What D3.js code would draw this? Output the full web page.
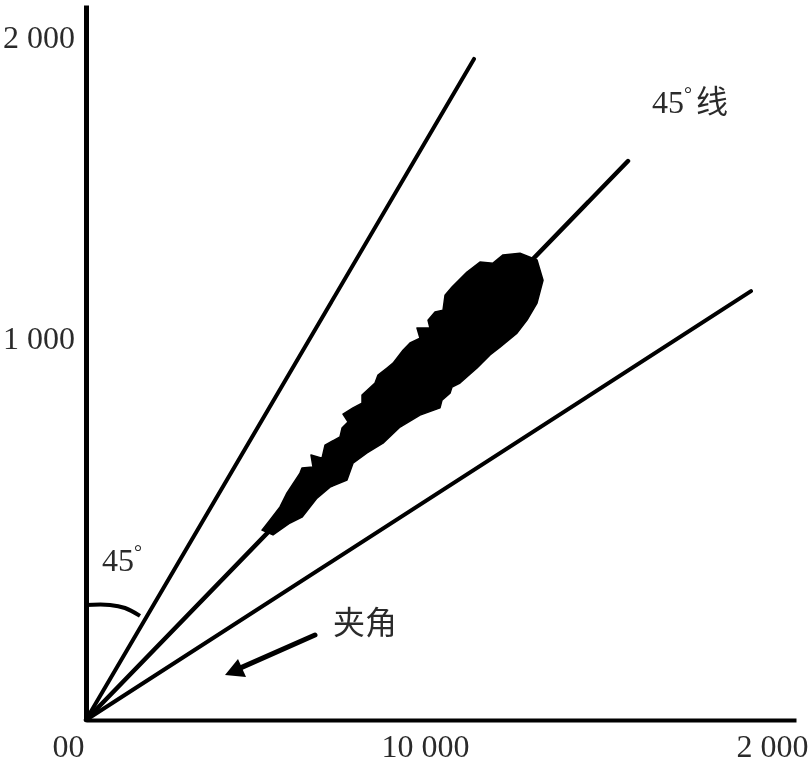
<!DOCTYPE html>
<html>
<head>
<meta charset="utf-8">
<script src="https://cdn.jsdelivr.net/npm/d3@7"></script>
<style>
  body { margin: 0; background: #fff; overflow: hidden; }
  text { font-family: "Liberation Serif", serif; font-size: 32px; fill: #2b2b2b; }
  .cjk { font-family: "Noto Sans CJK SC", sans-serif; font-size: 32px; }
</style>
</head>
<body>
<svg id="chart" width="810" height="775"></svg>
<script>
// tick labels, sits where the scan printed them (not evenly spaced)
var xTickValues = [-525, 9884, 20000];
var xTickLabels = ["00", "10 000", "2 000"];
var yTickValues = [1118, 2000];
var yTickLabels = ["1 000", "2 000"];

// rays from the origin, [x, y] of the far end
var rayNames = ["upper", "middle", "lower"];
var rayEndX = [11312, 15802, 19388];
var rayEndY = [1936, 1637, 1256];
var rayWidth = [4, 4.5, 4];

// scatter cloud outline
var cloudX = [5131, 5365, 5656, 5860, 6239, 6297, 6618, 6560, 6881, 6968, 7405, 7464, 7639, 7493, 7784, 8047, 8047, 8426, 8513, 8776, 8951, 9242, 9446, 9738, 9650, 10029, 9971, 10175, 10408, 10467, 10671, 11108, 11487, 11866, 12158, 12653, 13149, 13324, 13149, 12857, 12566, 12070, 11779, 11400, 10904, 10671, 10612, 10379, 10321, 9738, 9155, 8659, 8193, 7784, 7609, 7114, 6735, 6297, 5948, 5452];
var cloudY = [556, 586, 624, 665, 723, 738, 741, 776, 767, 805, 829, 855, 873, 896, 914, 928, 952, 987, 1010, 1031, 1045, 1083, 1104, 1118, 1148, 1148, 1171, 1195, 1200, 1244, 1268, 1312, 1341, 1338, 1362, 1367, 1347, 1288, 1221, 1171, 1133, 1092, 1069, 1031, 987, 975, 957, 937, 914, 893, 858, 811, 782, 752, 703, 682, 650, 594, 577, 542];

// 45 degree arc next to the y axis
var arcX = [0, 700, 1137, 1574];
var arcY = [337, 337, 328, 305];

// arrow pointing at the angle
var arrowX = [6676, 4490];
var arrowY = [249, 152];
var arrowHeadX = [4053, 4432, 4665];
var arrowHeadY = [132, 179, 126];

var svg = d3.select("#chart");
var defs = svg.append("defs");
defs.append("filter").attr("id", "scan")
  .append("feGaussianBlur").attr("stdDeviation", 0.5);

var g = svg.append("g").attr("filter", "url(#scan)");

var x = d3.scaleLinear().domain([0, 20700]).range([86, 796]);
var y = d3.scaleLinear().domain([0, 2094]).range([720, 5]);

var xAxis = d3.axisBottom(x)
  .tickValues(xTickValues)
  .tickSize(0)
  .tickPadding(14)
  .tickFormat(function(d, i) { return xTickLabels[i]; });

var yAxis = d3.axisLeft(y)
  .tickValues(yTickValues)
  .tickSize(0)
  .tickPadding(11)
  .tickFormat(function(d, i) { return yTickLabels[i]; });

var gx = g.append("g").attr("transform", "translate(0,720)").call(xAxis);
var gy = g.append("g").attr("transform", "translate(86,0)").call(yAxis);

gx.select(".domain").attr("stroke", "#000").attr("stroke-width", 4);
gy.select(".domain").attr("stroke", "#000").attr("stroke-width", 5);
g.selectAll(".tick text").style("font-size", "32px").style("font-family", '"Liberation Serif", serif');

// rays
g.selectAll("line.ray")
  .data(rayNames)
  .enter().append("line")
  .attr("class", "ray")
  .attr("x1", x(0))
  .attr("y1", y(0))
  .attr("x2", function(d, i) { return x(rayEndX[i]); })
  .attr("y2", function(d, i) { return y(rayEndY[i]); })
  .attr("stroke", "#000")
  .attr("stroke-width", function(d, i) { return rayWidth[i]; })
  .attr("stroke-linecap", "round");

// cloud
var outline = d3.line()
  .x(function(d, i) { return x(d); })
  .y(function(d, i) { return y(cloudY[i]); })
  .curve(d3.curveLinearClosed);

g.append("path")
  .attr("d", outline(cloudX))
  .attr("fill", "#000")
  .attr("stroke", "#000")
  .attr("stroke-width", 1.5)
  .attr("stroke-linejoin", "round");

// arc
var arcLine = d3.line()
  .x(function(d) { return x(d); })
  .y(function(d, i) { return y(arcY[i]); })
  .curve(d3.curveCatmullRom);

g.append("path")
  .attr("d", arcLine(arcX))
  .attr("fill", "none")
  .attr("stroke", "#000")
  .attr("stroke-width", 4);

// arrow
g.append("line")
  .attr("x1", x(arrowX[0])).attr("y1", y(arrowY[0]))
  .attr("x2", x(arrowX[1])).attr("y2", y(arrowY[1]))
  .attr("stroke", "#000")
  .attr("stroke-width", 5)
  .attr("stroke-linecap", "round");

g.append("polygon")
  .attr("points", arrowHeadX.map(function(d, i) { return x(d) + "," + y(arrowHeadY[i]); }).join(" "))
  .attr("fill", "#000");

// labels
g.append("text").attr("x", 652).attr("y", 113).text("45");
g.append("text").attr("x", 684).attr("y", 101).style("font-size", "20px").text("°");
g.append("text").attr("class", "cjk").attr("x", 696).attr("y", 113).text("线");
g.append("text").attr("x", 102).attr("y", 571).text("45");
g.append("text").attr("x", 134).attr("y", 559).style("font-size", "20px").text("°");
g.append("text").attr("class", "cjk").attr("x", 333).attr("y", 634).text("夹角");
</script>
</body>
</html>
